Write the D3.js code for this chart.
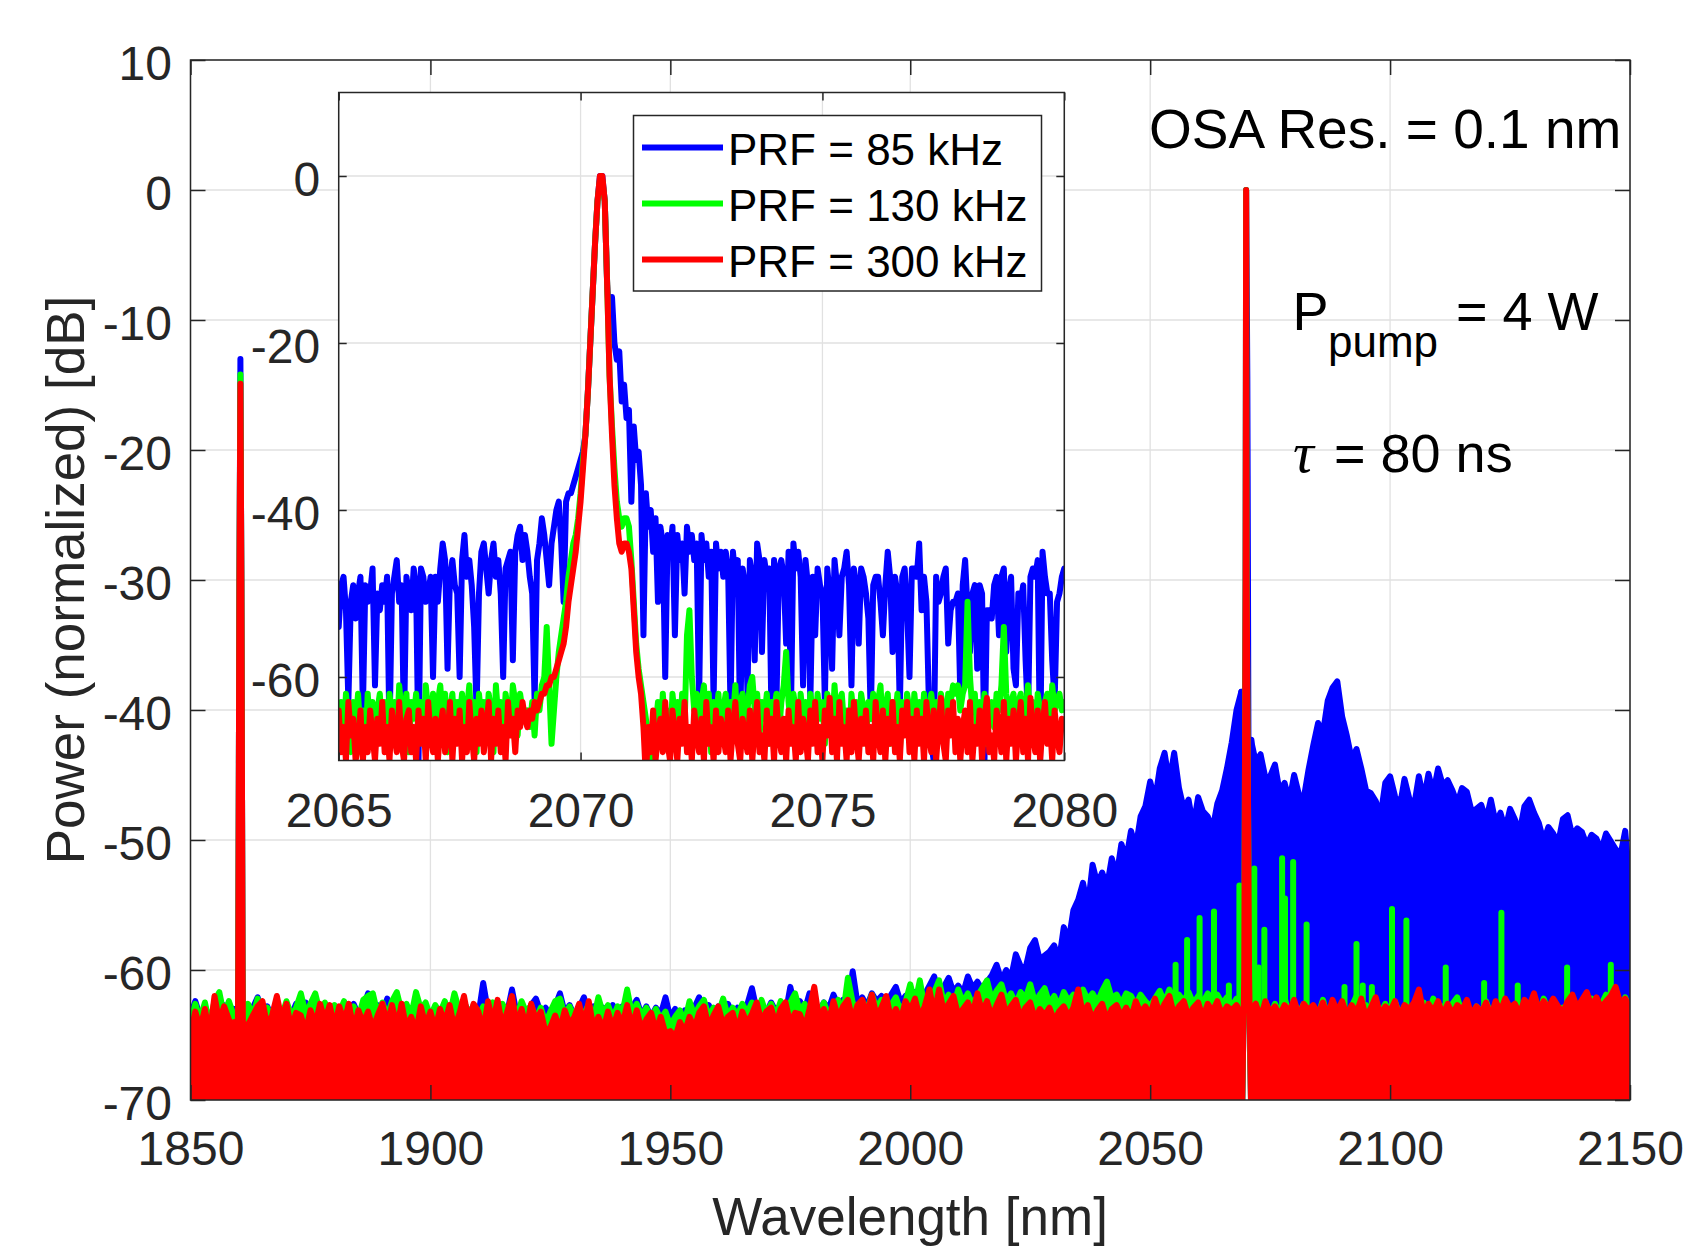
<!DOCTYPE html>
<html>
<head>
<meta charset="utf-8">
<script src="https://cdn.jsdelivr.net/npm/d3@7"></script>
<style>
html, body { margin: 0; padding: 0; background: #fff; }
svg { display: block; }
</style>
</head>
<body>
<svg id="chart" width="1690" height="1249"></svg>
<script>
// ---------------- data ----------------
const seriesNames  = ["PRF = 85 kHz", "PRF = 130 kHz", "PRF = 300 kHz"];
const seriesColors = ["#0000ff", "#00ff00", "#ff0000"];

// Full spectrum, upper envelope of the trace on a 1 nm grid starting at 1850 nm (dB).
// null marks the signal line, which is drawn from its own point lists below.
const mainStart = 1850;
const mainBlue = [
  -63.5,-62.4,-63.6,-62.8,-63.9,-62.9,-63.4,-62.7,-63.6,-63,
  -63.5,-63.2,-63.8,-62.9,-62.1,-63.3,-62.8,-63.6,-62.9,-63.4,
  -62.7,-63.5,-62.6,-63.3,-62.5,-63.6,-62.8,-63.4,-62.9,-63.7,
  -62.8,-63.5,-62.7,-63.3,-62.6,-63.5,-62.9,-61.8,-63.2,-62.7,
  -63.4,-62.2,-63.5,-62.8,-63.6,-62.9,-63.4,-62.6,-63.5,-62.8,
  -63.6,-62.9,-63.3,-62.6,-63.5,-62.7,-63.4,-62.5,-63.3,-62.8,
  -63.5,-61,-63.2,-62.6,-63.5,-62.7,-63.3,-61.5,-63.4,-62.8,
  -63.5,-62.7,-62.2,-63.3,-62.9,-63.6,-62.8,-61.8,-63.3,-62.7,
  -63.5,-62.9,-62.1,-63.4,-62.8,-63.5,-62.9,-63.6,-62.7,-63.4,
  -62.8,-63.3,-62.9,-62.3,-63.5,-62.8,-63.6,-62.9,-63.4,-62.1,
  -63.7,-63,-63.8,-63.1,-63.5,-62.9,-62.1,-63.2,-62.7,-63.5,
  -62.8,-63.3,-62.6,-63.4,-62.9,-63.2,-62.7,-61.4,-63.1,-62.6,
  -63.3,-62.5,-63.2,-62.7,-63.4,-61.3,-62.9,-62.4,-63.1,-61.8,
  -62.7,-63.2,-62.5,-63,-61.9,-62.8,-62.3,-62.9,-60.1,-62.6,
  -62.1,-62.8,-61.8,-62.4,-62,-62.7,-61.9,-61.3,-62.5,-62,
  -62.6,-61.7,-62.3,-61.9,-61.2,-60.5,-61.8,-61.3,-60.6,-61.7,
  -61.2,-61.8,-60.5,-61.4,-60.9,-61.5,-60.9,-60.4,-59.6,-60.8,
  -60,-60.6,-58.8,-59.7,-59.9,-58.3,-57.7,-59.2,-58.9,-58.6,
  -58.1,-59.3,-56.7,-57.8,-55.4,-54.6,-53.3,-55.2,-51.9,-53.4,
  -52.5,-53.6,-51.4,-52.8,-50.3,-51.5,-49.3,-50.6,-48.2,-47.4,
  -45.5,-47,-44.5,-43.3,-45.6,-43.3,-46,-47.6,-46.9,-49,
  -46.7,-47.8,-48.2,-49.2,-47.2,-46.2,-44.5,-42.5,-40,-38.6,
  null,-42.3,-44,-43.4,-45.2,-45.1,-44.2,-46.3,-45.6,-47,
  -45,-46.5,-46.8,-44.6,-42.7,-41,-41.8,-39.3,-38.3,-37.8,
  -40.5,-42,-43.8,-43,-44.5,-46.2,-46.4,-47,-48.2,-45.6,
  -45.1,-46.6,-47.5,-45.3,-46.8,-47.4,-45.1,-46.9,-44.9,-46.4,
  -44.5,-45.8,-45.4,-46.2,-47.2,-46,-46.3,-47.8,-47.6,-47.3,
  -48.5,-46.9,-48.7,-47.9,-49.2,-47.6,-48.4,-49.4,-47.4,-46.9,
  -47.9,-48.7,-50.1,-49,-49.5,-50.3,-48.4,-48.1,-49.7,-49.1,
  -49.4,-50.4,-49.6,-49.9,-50.8,-49.5,-50.1,-50.7,-51.2,-49.3,
  -53.6
];
const mainGreen = [
  -64,-62.6,-63.8,-62.5,-64.2,-62.4,-61.7,-63.5,-62.4,-63.5,
  -64,-64,-62.6,-63.5,-62.2,-63.4,-62.9,-63.7,-62.5,-63.6,
  -62.4,-63.5,-62.9,-61.8,-63.4,-62.6,-61.8,-63.3,-62.5,-63.6,
  -62.7,-63.3,-62.4,-63.5,-62.8,-63.7,-62.3,-62,-61.8,-63.4,
  -62.5,-63.6,-62.4,-61.7,-63.2,-62.6,-63.5,-61.7,-63,-62.5,
  -63.6,-62.7,-63.3,-62.4,-63.5,-61.8,-63.1,-62.4,-63.5,-62.7,
  -63.6,-62.8,-63.2,-62.5,-63.7,-62.6,-63.4,-62.5,-63.6,-62.4,
  -63.3,-62.7,-63.8,-62.9,-64.1,-63.2,-62.4,-62.2,-63.5,-62.8,
  -63.6,-62.9,-63.5,-62.6,-63.8,-62.1,-63.4,-62.7,-63.7,-62.8,
  -63.3,-61.5,-63.4,-62.6,-63.5,-62.9,-63.7,-63,-63.8,-63.2,
  -64.3,-63.6,-63.1,-64,-62.4,-63.5,-62.8,-62.3,-63.6,-62.9,
  -63.4,-62.2,-63.6,-62.9,-63.5,-62.6,-63.3,-62.5,-63.7,-62.3,
  -63.4,-62.6,-63.5,-62.4,-63.1,-62.5,-61.8,-63.2,-62.6,-63.6,
  -62.7,-63.3,-62.5,-63.5,-62.8,-62.3,-63.4,-60.6,-62.5,-63.2,
  -62.4,-63.1,-61.9,-62.9,-62.3,-63.3,-62.7,-62.1,-63.2,-62.5,
  -61.1,-62.6,-60.8,-62.9,-62,-61.7,-60.8,-62.6,-61.9,-62.8,
  -61.5,-62.5,-61.8,-62.7,-62,-61.4,-60.8,-62.3,-61.6,-61.1,
  -62.4,-61.8,-62.6,-61.7,-62.2,-61.1,-62.5,-61.9,-61.4,-62.6,
  -62,-62.8,-61.7,-62.4,-61.9,-62.6,-61.5,-62.3,-61.8,-62.5,
  -61.6,-60.9,-62.2,-61.9,-62.6,-61.8,-62,-62.7,-61.9,-62.4,
  -62.8,-62.2,-61.6,-62.5,-61.5,-62.3,-61.9,-62.4,-61.7,-62.6,
  -62,-62.5,-61.8,-62.3,-61.9,-62.6,-62.1,-62.8,-62.2,-62.9,
  null,-62.9,-62.2,-63.3,-62.4,-63.5,-62.6,-63.4,-62.1,-63.6,
  -62.5,-63.4,-62.6,-63.7,-62.8,-63.5,-62.3,-63.6,-62.9,-63.2,
  -62.6,-63.5,-62.8,-62,-63.3,-62.7,-63.6,-62.9,-63.4,-62.6,
  -63.3,-62.4,-63.5,-62.8,-63.6,-62.9,-63.4,-62.5,-63.3,-62.2,
  -63.1,-62.8,-63.5,-62.6,-62.1,-63.4,-62.7,-63.6,-62.8,-63.3,
  -62.4,-63.5,-62.8,-63.4,-62.5,-63.2,-62.7,-63.6,-62.9,-63.3,
  -62.5,-63.4,-62.2,-63.1,-62.7,-63.5,-62.9,-63.2,-62.3,-63.4,
  -62.6,-63.1,-62.2,-63.3,-62.7,-61.9,-63.2,-62.5,-63,-62.1,
  -63.2
];
const mainRed = [
  -65,-63.2,-64.5,-63,-65,-62,-64,-62.8,-63.8,-64.5,
  -64.8,-65,-64.2,-63.5,-62.8,-62.4,-64.3,-63.5,-62,-63.8,
  -62.6,-64.5,-63.3,-63.5,-64.8,-63.1,-64.2,-62.6,-63.9,-62.7,
  -64.4,-62.8,-64,-62.6,-64.6,-63.1,-64.1,-63.2,-64.5,-63.5,
  -62.6,-64.2,-62.7,-64.4,-62.6,-64.5,-63.6,-64.8,-62.8,-64.3,
  -63.2,-64.6,-63,-64.1,-62.7,-64.5,-63.4,-62,-64,-62.6,
  -63.2,-64.7,-62.4,-64.1,-62.3,-64.4,-63.2,-62,-64.3,-63,
  -64.5,-62.6,-63.9,-63.2,-64.8,-64.4,-63.5,-64.6,-63.1,-64.2,
  -63.6,-62.6,-64.3,-62.4,-64.5,-63.6,-64.6,-63.2,-64.5,-63.3,
  -64.2,-62.7,-64.4,-63.1,-64.6,-63.8,-63.3,-64.7,-63.6,-64.9,
  -64.7,-65.2,-64,-64.8,-63.6,-64.5,-63.3,-62.8,-64.4,-63.5,
  -62.8,-64.2,-63.6,-63.3,-64.7,-63.2,-64.1,-63.4,-62.5,-64,
  -63.2,-62.9,-64.2,-63,-62.5,-64.1,-63.3,-63.4,-64.5,-63,
  -61.3,-63.8,-63,-64,-62.4,-63.7,-62.8,-62.3,-63.9,-62.7,
  -62.3,-63.5,-61.9,-63.6,-62.9,-62,-63.8,-63,-63.9,-62.4,
  -63.1,-62.2,-63.7,-62.8,-61.5,-63.4,-61.5,-63.2,-62.6,-62,
  -63.5,-63,-62.5,-63.4,-61.8,-63.3,-62.4,-63.6,-62.7,-61.9,
  -63.4,-62.8,-62.3,-63.7,-62.9,-62.5,-63.8,-63,-63.5,-62.9,
  -63.9,-63.2,-62.8,-63.6,-62.9,-61.5,-63.4,-62.7,-63.8,-63.1,
  -62.6,-63.9,-63,-62.7,-63.6,-62.9,-63.7,-62.4,-63.3,-62.8,
  -63.5,-62.2,-63.4,-62.6,-62,-63.5,-62.8,-62.4,-63.6,-62.9,
  -62.5,-63.7,-62.6,-63.2,-62.4,-63.5,-62.8,-63.1,-62.7,-63.4,
  null,-63,-62.6,-63.7,-62.4,-63.3,-62.8,-63.5,-62.7,-63.2,
  -62.3,-63.6,-62.6,-63.1,-62.7,-63.4,-62.5,-63.5,-62.3,-63.2,
  -62.4,-63.5,-62.7,-63.3,-62.2,-63.7,-62.9,-62.1,-63.5,-62.8,
  -63.2,-62.4,-63.6,-62.7,-63,-62.5,-61.5,-63.4,-62.6,-63.2,
  -62.4,-63.5,-62.6,-63.4,-62.7,-63.1,-62.3,-63.5,-62.8,-63.3,
  -62.5,-63.6,-62.4,-63.2,-62.2,-62.9,-62.6,-63.4,-62.3,-62.8,
  -61.8,-63.1,-62.4,-62.9,-62.2,-62.8,-63.3,-62.4,-61.9,-62.9,
  -62.3,-61.7,-62.8,-62.1,-62.9,-62.4,-62,-61.3,-62.6,-62.2,
  -63
];

// Single-sample excursions of the 130 kHz trace on the long-wavelength side: [nm, dB]
const greenSpikes = [
  [2055.3,-59.6],[2057.7,-57.7],[2060.3,-56],[2063.3,-55.5],[2066.4,-61.2],[2068.6,-53.5],
  [2071.7,-52.2],[2072.6,-59.8],[2073.8,-56.9],[2077.5,-51.4],[2078.1,-54.5],[2079.8,-51.7],
  [2082.6,-56.5],[2090.5,-61.3],[2093,-58],[2094.3,-61.2],[2096.2,-61.3],[2100.4,-55.3],
  [2103.4,-56.2],[2111.6,-59.8],[2119.6,-61],[2123.2,-55.6],[2126.6,-61.2],[2136.9,-59.8],[2146,-59.6]
];

// Pump line near 1860 nm: [nm, dB]
const pumpBlue  = [[1859.2,-63],[1859.74,-71],[1859.95,-60],[1860.2,-30],[1860.4,-13],[1860.6,-30],[1860.85,-60],[1861.03,-71],[1861.5,-63.5]];
const pumpGreen = [[1859.2,-63.5],[1859.74,-71],[1859.95,-60],[1860.2,-30],[1860.4,-14.2],[1860.6,-30],[1860.85,-60],[1861.03,-71],[1861.5,-63.8]];
const pumpRed   = [[1859.2,-64],[1859.74,-71],[1859.95,-60],[1860.2,-30],[1860.4,-14.9],[1860.6,-30],[1860.85,-60],[1861.03,-71],[1861.5,-64.2]];

// Signal line near 2070 nm: [nm, dB]
const signalBlue  = [[2069,-38.6],[2069.15,-71],[2069.6,-60.5],[2069.9,-30],[2070,0],[2070.25,-14.6],[2070.32,-22],[2070.62,-60.5],[2071.05,-71],[2071.1,-42.3]];
const signalGreen = [[2069,-62.9],[2069.15,-71],[2069.6,-60.5],[2069.9,-30],[2070,0],[2070.1,-30],[2070.62,-60.5],[2071.05,-71],[2071.1,-62.9]];
const signalRed   = [[2069,-63.4],[2069.15,-71],[2069.6,-60.5],[2069.9,-30],[2070,0],[2070.1,-30],[2070.62,-60.5],[2071.05,-71],[2071.1,-63]];

// Zoomed view 2065-2080 nm, 0.05 nm sampling (dB)
const insetStart = 2065, insetStep = 0.05;
const insetBlue = [
  -54,-49,-48,-52,-63,-51,-49,-53,-50,-48,-64,-49,-51,-50,-47,-61,-50,-52,-49,-51,
  -48,-67,-50,-48,-46,-51,-49,-66,-48,-50,-52,-47,-49,-70,-47,-48,-51,-50,-48,-60,
  -48,-51,-47,-44,-46,-59,-48,-46,-49,-50,-60,-46,-43,-48,-46,-49,-54,-64,-50,-45,
  -44,-47,-50,-46,-44,-48,-46,-50,-60,-47,-46,-45,-58,-45,-43,-42,-46,-43,-45,-48,
  -50,-63,-46,-44,-41,-43,-46,-49,-44,-42,-40,-39,-44,-51,-39,-38,-38,-37,-36,-35,
  -34,-33,-31,-26,-20,-14,-8,-3,0,0,-3,-13,-18,-14.5,-20,-22,-21,-27,-25,-29,
  -28,-39,-30,-34,-33,-37,-55,-38,-42,-40,-45,-41,-51,-42,-44,-60,-43,-45,-42,-55,
  -43,-46,-44,-50,-42,-45,-43,-46,-44,-63,-43,-46,-44,-48,-45,-63,-44,-47,-45,-48,
  -45,-47,-64,-45,-48,-46,-67,-47,-49,-62,-46,-48,-58,-44,-46,-57,-46,-48,-47,-66,
  -46,-63,-47,-46,-48,-56,-45,-64,-44,-47,-45,-48,-61,-46,-49,-63,-48,-55,-47,-49,
  -50,-63,-47,-50,-59,-46,-49,-55,-48,-47,-45,-49,-61,-47,-49,-56,-47,-48,-50,-53,
  -65,-49,-48,-48,-51,-55,-49,-45,-48,-57,-48,-50,-64,-48,-47,-52,-60,-47,-47,-48,
  -44,-52,-48,-51,-63,-68,-70,-48,-51,-50,-48,-47,-56,-52,-51,-51,-50,-62,-49,-46,
  -52,-57,-50,-49,-59,-49,-50,-70,-52,-52,-53,-49,-48,-55,-48,-47,-57,-50,-48,-59,
  -61,-50,-51,-49,-58,-65,-48,-47,-48,-46,-70,-45,-48,-50,-50,-58,-63,-51,-50,-48,
  -47
];
const insetGreen = [
  -66,-63,-68,-62,-65,-69,-63,-66,-62,-67,-64,-69,-62,-66,-63,-68,-64,-62,-67,-63,
  -69,-62,-65,-63,-68,-61,-64,-66,-62,-69,-63,-65,-62,-67,-63,-68,-61,-64,-66,-62,
  -68,-63,-61,-65,-62,-69,-64,-62,-67,-63,-65,-62,-68,-64,-61,-66,-63,-69,-62,-65,
  -63,-67,-62,-64,-69,-61,-65,-63,-68,-62,-64,-66,-61,-63,-67,-62,-64,-65,-64,-66,
  -63,-67,-62,-64,-61,-60,-54,-61,-68,-64,-60,-57,-55,-53,-51,-48,-46,-44,-43,-41,
  -38,-34,-31,-26,-20,-14,-8,-3,-0.5,-0.5,-3,-13,-24,-30,-35,-39,-41,-42,-41,-41,
  -42,-46,-51,-56,-59,-61,-63,-65,-67,-69,-71,-66,-63,-68,-62,-66,-64,-69,-62,-65,
  -63,-67,-62,-66,-55,-52,-60,-64,-62,-68,-63,-61,-66,-62,-69,-63,-65,-62,-67,-64,
  -62,-68,-63,-65,-61,-67,-63,-62,-66,-64,-61,-60,-64,-62,-67,-63,-65,-62,-68,-63,
  -64,-62,-67,-63,-61,-57,-63,-66,-62,-64,-68,-62,-65,-63,-67,-62,-64,-66,-62,-65,
  -63,-68,-62,-64,-67,-61,-65,-63,-62,-66,-64,-69,-62,-65,-63,-67,-62,-64,-68,-63,
  -65,-62,-67,-63,-61,-66,-64,-62,-68,-63,-65,-62,-69,-63,-66,-62,-64,-67,-62,-65,
  -63,-66,-62,-68,-64,-62,-65,-63,-67,-62,-64,-66,-62,-63,-61,-62,-61,-64,-62,-61,
  -51,-60,-64,-62,-67,-63,-65,-62,-68,-64,-63,-66,-62,-64,-61,-54,-62,-65,-63,-62,
  -66,-63,-62,-67,-64,-61,-65,-63,-68,-62,-64,-66,-63,-62,-67,-61,-64,-63,-62,-64,
  -63
];
const insetRed = [
  -64,-69,-66,-70,-63,-67,-65,-70,-68,-64,-70,-66,-69,-64,-67,-70,-65,-68,-63,-69,
  -66,-70,-64,-67,-69,-63,-68,-70,-65,-64,-69,-66,-70,-64,-68,-65,-70,-63,-67,-69,
  -65,-70,-66,-64,-69,-67,-63,-70,-65,-68,-64,-70,-66,-69,-63,-67,-70,-65,-68,-64,
  -69,-66,-63,-70,-65,-68,-64,-69,-66,-70,-63,-67,-65,-69,-64,-66,-63,-65,-66,-64,
  -65,-63,-64,-63,-62,-62,-61,-61,-60,-60,-59,-58,-57,-56,-54,-51,-49,-47,-45,-42,
  -39,-35,-31,-26,-20,-14,-8,-3,0,0,-3,-13,-24,-31,-37,-41,-44,-45,-44,-44,
  -45,-47,-52,-57,-60,-62,-66,-72,-66,-69,-64,-70,-67,-65,-69,-63,-68,-70,-64,-67,
  -70,-65,-68,-63,-69,-66,-70,-64,-67,-69,-65,-70,-63,-68,-66,-70,-64,-69,-65,-67,
  -69,-64,-70,-66,-63,-68,-70,-65,-67,-69,-64,-70,-66,-63,-69,-67,-70,-64,-68,-65,
  -70,-63,-67,-69,-65,-70,-64,-68,-66,-70,-63,-69,-65,-67,-70,-64,-68,-63,-69,-66,
  -70,-64,-67,-62.5,-69,-65,-70,-63,-68,-66,-70,-64,-69,-63,-67,-70,-65,-68,-64,-69,
  -66,-70,-63,-67,-69,-64,-70,-65,-68,-63,-69,-66,-70,-64,-67,-63,-69,-65,-70,-64,
  -68,-65,-70,-63,-67,-69,-64,-70,-66,-62.5,-68,-70,-64,-67,-63,-69,-65,-70,-66,-64,
  -69,-63,-70,-66,-68,-64,-70,-65,-62.5,-69,-67,-70,-64,-66,-69,-63,-70,-65,-68,-64,
  -70,-66,-63,-69,-65,-70,-62.5,-67,-69,-64,-70,-66,-63,-68,-65,-70,-64,-67,-69,-65,
  -66
];

// Axis ticks
const mainXTicks  = [1850, 1900, 1950, 2000, 2050, 2100, 2150];
const mainYTicks  = [-70, -60, -50, -40, -30, -20, -10, 0, 10];
const insetXTicks = [2065, 2070, 2075, 2080];
const insetYTicks = [-60, -40, -20, 0];

// ---------------- drawing ----------------
const FONT = '"Liberation Sans", Arial, Helvetica, sans-serif';
const AXIS = "#262626", GRID = "#e1e1e1";
const LW = 6;

const svg = d3.select("#chart").attr("font-family", FONT);
const defs = svg.append("defs");

const xM = d3.scaleLinear().domain([1850, 2150]).range([190.5, 1630]);
const yM = d3.scaleLinear().domain([-70, 10]).range([1100, 60]);
const xI = d3.scaleLinear().domain([2065, 2080]).range([338.7, 1064.3]);
const yI = d3.scaleLinear().domain([-70, 10]).range([760.5, 92.5]);

function addClip(id, x, y) {
  const [x0, x1] = x.range(), [y0, y1] = y.range();
  defs.append("clipPath").attr("id", id).append("rect")
    .attr("x", x0).attr("y", y1).attr("width", x1 - x0).attr("height", y0 - y1);
}
addClip("clipMain", xM, yM);
addClip("clipInset", xI, yI);

function drawGrid(g, x, y, xt, yt) {
  const [x0, x1] = x.range(), [y0, y1] = y.range();
  g.selectAll(null).data(xt).join("line")
    .attr("x1", d => x(d)).attr("x2", d => x(d)).attr("y1", y0).attr("y2", y1)
    .attr("stroke", GRID).attr("stroke-width", 1.3);
  g.selectAll(null).data(yt).join("line")
    .attr("y1", d => y(d)).attr("y2", d => y(d)).attr("x1", x0).attr("x2", x1)
    .attr("stroke", GRID).attr("stroke-width", 1.3);
}

function drawFrame(g, x, y, xt, yt, tickLen, fontSize, padBottom, padLeft) {
  const [x0, x1] = x.range(), [y0, y1] = y.range();
  const fmt = d => String(d);
  const b = g.append("g").attr("transform", `translate(0,${y0})`)
    .call(d3.axisBottom(x).tickValues(xt).tickSize(-tickLen).tickSizeOuter(0).tickPadding(padBottom).tickFormat(fmt));
  const t = g.append("g").attr("transform", `translate(0,${y1})`)
    .call(d3.axisTop(x).tickValues(xt).tickSize(-tickLen).tickSizeOuter(0).tickFormat(""));
  const l = g.append("g").attr("transform", `translate(${x0},0)`)
    .call(d3.axisLeft(y).tickValues(yt).tickSize(-tickLen).tickSizeOuter(0).tickPadding(padLeft).tickFormat(fmt));
  const r = g.append("g").attr("transform", `translate(${x1},0)`)
    .call(d3.axisRight(y).tickValues(yt).tickSize(-tickLen).tickSizeOuter(0).tickFormat(""));
  [b, t, l, r].forEach(a => {
    a.select(".domain").remove();
    a.attr("font-family", FONT).attr("font-size", fontSize);
    a.selectAll(".tick line").attr("stroke", AXIS).attr("stroke-width", 1.5);
    a.selectAll(".tick text").attr("fill", AXIS);
  });
  l.selectAll(".tick text").attr("dy", "0.4em");
  g.append("rect").attr("x", x0).attr("y", y1).attr("width", x1 - x0).attr("height", y0 - y1)
    .attr("fill", "none").attr("stroke", AXIS).attr("stroke-width", 1.5);
}

function strokeLine(g, path, color) {
  return g.append("path").attr("d", path).attr("fill", "none").attr("stroke", color)
    .attr("stroke-width", LW).attr("stroke-linejoin", "round").attr("stroke-linecap", "round");
}

// ---- main axes ----
const main = svg.append("g");
drawGrid(main, xM, yM, mainXTicks, mainYTicks);

const plot = main.append("g").attr("clip-path", "url(#clipMain)");
const envArea = d3.area().defined(d => d[1] !== null)
  .x(d => xM(d[0])).y0(yM(-71)).y1(d => yM(d[1]));
const envLine = d3.line().defined(d => d[1] !== null)
  .x(d => xM(d[0])).y(d => yM(d[1]));
const ptLine = d3.line().x(d => xM(d[0])).y(d => yM(d[1]));

const mainSets = [
  { env: mainBlue,  pump: pumpBlue,  signal: signalBlue,  color: seriesColors[0] },
  { env: mainGreen, pump: pumpGreen, signal: signalGreen, color: seriesColors[1], spikes: greenSpikes },
  { env: mainRed,   pump: pumpRed,   signal: signalRed,   color: seriesColors[2] }
];
mainSets.forEach(s => {
  const pts = s.env.map((v, i) => [mainStart + i, v]);
  plot.append("path").attr("d", envArea(pts)).attr("fill", s.color);
  strokeLine(plot, envLine(pts), s.color);
  if (s.spikes) {
    s.spikes.forEach(([l, v]) => strokeLine(plot, ptLine([[l, -66], [l, v]]), s.color));
  }
  strokeLine(plot, ptLine(s.pump), s.color);
  strokeLine(plot, ptLine(s.signal), s.color);
});

drawFrame(main, xM, yM, mainXTicks, mainYTicks, 15, 48, 31, 18.5);

// axis titles
main.append("text").attr("x", 910).attr("y", 1235).attr("text-anchor", "middle")
  .attr("font-size", 53).attr("fill", AXIS).text("Wavelength [nm]");
main.append("text").attr("transform", "translate(84,580) rotate(-90)").attr("text-anchor", "middle")
  .attr("font-size", 53).attr("fill", AXIS).text("Power (normalized) [dB]");

// annotations
main.append("text").attr("x", 1149).attr("y", 148).attr("font-size", 55).attr("fill", "#000")
  .text("OSA Res. = 0.1 nm");
const pp = main.append("text").attr("y", 330).attr("font-size", 54).attr("fill", "#000");
pp.append("tspan").attr("x", 1292.5).text("P");
pp.append("tspan").attr("x", 1328).attr("dy", 27).attr("font-size", 44).text("pump");
pp.append("tspan").attr("x", 1456).attr("dy", -27).text("= 4 W");
const tau = main.append("text").attr("y", 471.7).attr("font-size", 54).attr("fill", "#000");
tau.append("tspan").attr("x", 1293).attr("font-family", '"Liberation Serif", "DejaVu Serif", serif')
  .attr("font-style", "italic").attr("font-size", 58).text("τ");
tau.append("tspan").attr("x", 1334).text("= 80 ns");

// ---- inset axes ----
const inset = svg.append("g");
inset.append("rect").attr("x", xI.range()[0]).attr("y", yI.range()[1])
  .attr("width", xI.range()[1] - xI.range()[0]).attr("height", yI.range()[0] - yI.range()[1])
  .attr("fill", "#fff");
drawGrid(inset, xI, yI, insetXTicks, insetYTicks);

const iplot = inset.append("g").attr("clip-path", "url(#clipInset)");
const iLine = d3.line().x(d => xI(d[0])).y(d => yI(d[1]));
[insetBlue, insetGreen, insetRed].forEach((arr, k) => {
  const pts = arr.map((v, i) => [insetStart + i * insetStep, v]);
  strokeLine(iplot, iLine(pts), seriesColors[k]);
});

drawFrame(inset, xI, yI, insetXTicks, insetYTicks, 8, 48, 32, 18.5);

// legend
const leg = inset.append("g");
leg.append("rect").attr("x", 633.5).attr("y", 115.5).attr("width", 408).attr("height", 175.5)
  .attr("fill", "#fff").attr("stroke", AXIS).attr("stroke-width", 1.5);
seriesNames.forEach((name, k) => {
  const cy = 147.6 + k * 56;
  leg.append("line").attr("x1", 642).attr("x2", 723).attr("y1", cy).attr("y2", cy)
    .attr("stroke", seriesColors[k]).attr("stroke-width", LW);
  leg.append("text").attr("x", 728).attr("y", cy + 17.4).attr("font-size", 44)
    .attr("fill", "#000").text(name);
});
</script>
</body>
</html>
